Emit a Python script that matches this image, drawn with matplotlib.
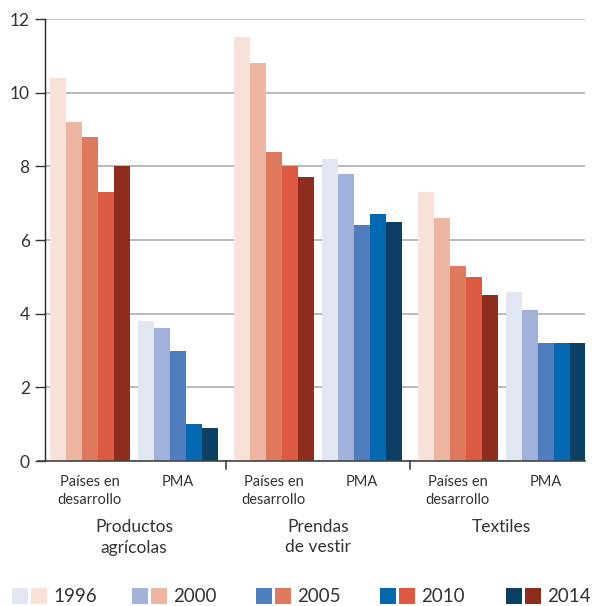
import matplotlib
matplotlib.use("Agg")
import matplotlib.pyplot as plt
from matplotlib.patches import Rectangle

plt.rcParams["font.family"] = ["Lato", "DejaVu Sans"]

YEARS = ["1996", "2000", "2005", "2010", "2014"]
CATEGORIES = ["Productos\nagrícolas", "Prendas\nde vestir", "Textiles"]
SUBGROUPS = ["Países en\ndesarrollo", "PMA"]

# values per category: (Países en desarrollo, PMA), one per year
AGRI_DEV = [10.4, 9.2, 8.8, 7.3, 8.0]
AGRI_PMA = [3.8, 3.6, 3.0, 1.0, 0.9]
CLOTH_DEV = [11.5, 10.8, 8.4, 8.0, 7.7]
CLOTH_PMA = [8.2, 7.8, 6.4, 6.7, 6.5]
TEXT_DEV = [7.3, 6.6, 5.3, 5.0, 4.5]
TEXT_PMA = [4.6, 4.1, 3.2, 3.2, 3.2]

REDS = ["#f7e1d8", "#edb5a2", "#e07a5f", "#dc5a42", "#8e2c1e"]
BLUES = ["#e2e6f3", "#a0b2da", "#4f7dbe", "#0468b1", "#0b3f63"]
TXT = "#333333"

series = [(AGRI_DEV, AGRI_PMA), (CLOTH_DEV, CLOTH_PMA), (TEXT_DEV, TEXT_PMA)]

fig = plt.figure(figsize=(5.94, 6.06), dpi=100)
ax = fig.add_axes([45 / 594, 145 / 606, 540 / 594, 442 / 606])
PX = 12 / 442  # data units per pixel on y


def lines(x, y0, text, step, size):
    # one text per line, placed on its baseline
    for k, ln in enumerate(text.split("\n")):
        ax.text(x, y0 - k * step, ln, ha="center", va="baseline",
                fontsize=size, color=TXT)


# subgroup start offsets (in bar widths)
cat_start = [0, 11.5, 23]
sub_off = [0, 5.5]
for ci, (dev, pma) in enumerate(series):
    for si, (vals, cols) in enumerate([(dev, REDS), (pma, BLUES)]):
        x0 = cat_start[ci] + sub_off[si]
        xs = [x0 + i + 0.5 for i in range(len(vals))]
        ax.bar(xs, vals, width=1.0, color=cols, linewidth=0, zorder=3)
        lines(x0 + 2.5, -25 * PX, SUBGROUPS[si], 18 * PX, 10.5)
    lines(cat_start[ci] + 5.25, -71 * PX, CATEGORIES[ci], 20.5 * PX, 12.5)

ax.set_xlim(-0.3125, 33.45)
ax.set_ylim(0, 12)
ax.set_yticks(range(0, 13, 2))
ax.set_xticks([])
ax.yaxis.grid(True, color="#b3b3b3", linewidth=1.3, zorder=0)
ax.tick_params(axis="y", length=7, width=1, color="#333333", labelsize=12.5,
               labelcolor=TXT, pad=4)
for s in ["top", "right", "bottom"]:
    ax.spines[s].set_visible(False)
ax.spines["left"].set_color("#222222")
ax.spines["left"].set_linewidth(1)

# baseline and category separators
ax.plot([-0.75, 33.45], [0, 0], color="#444444", linewidth=1.2, clip_on=False, zorder=4)
for xs in [11.0, 22.5]:
    ax.plot([xs, xs], [0, -0.22], color="#444444", linewidth=1.2, clip_on=False)

# legend row: blue + red square per year
leg_x = [12, 132, 256, 380, 506]
for lx, yr, b, r in zip(leg_x, YEARS, BLUES, REDS):
    fig.add_artist(Rectangle((lx / 594, 2 / 606), 16 / 594, 16 / 606,
                             transform=fig.transFigure, color=b, linewidth=0))
    fig.add_artist(Rectangle(((lx + 19) / 594, 2 / 606), 16 / 594, 16 / 606,
                             transform=fig.transFigure, color=r, linewidth=0))
    fig.text((lx + 41) / 594, 3.5 / 606, yr, ha="left", va="baseline",
             fontsize=13.5, color=TXT)

fig.savefig("out.png", dpi=100)
